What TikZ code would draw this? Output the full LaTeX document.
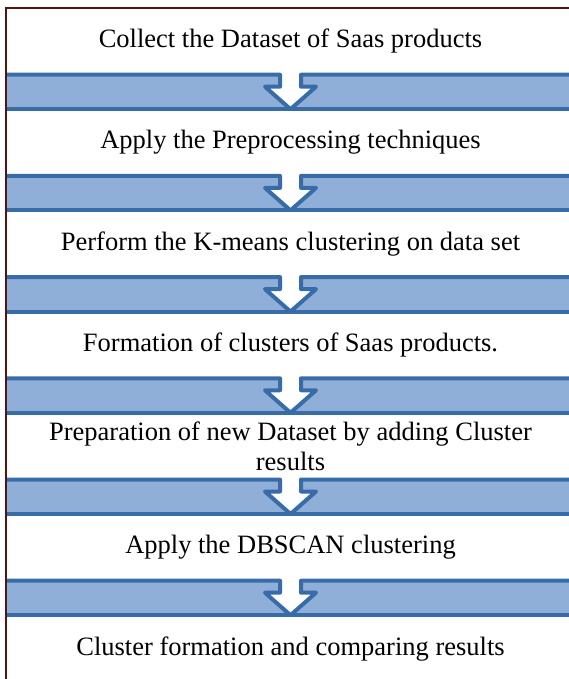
\documentclass[tikz,border=0pt]{standalone}
\usepackage{fontspec}
\setmainfont{Liberation Serif}
\newfontfamily\stepfont{Liberation Serif}
\usepackage{tikz}
\usetikzlibrary{positioning,calc}
\definecolor{bandfill}{RGB}{143,174,216}
\definecolor{bandline}{RGB}{56,108,168}
\definecolor{boxline}{RGB}{149,179,215}
\definecolor{framered}{RGB}{88,18,18}
% blue band with the white down arrow between two steps
\newcommand{\bandarrow}[2]{%
  \fill[bandfill] (#1.south west) rectangle (#2.north east);
  \fill[white] ($(#1.south)+(-10.5pt,3pt)$) -- ++(0,-15pt) -- ++(-15pt,0) -- (#2.north)
    -- ($(#1.south)+(25.5pt,-12pt)$) -- ++(-15pt,0) -- ++(0,15pt) -- cycle;
  \draw[bandrule] (#2.north west) -- (#2.north east);
  \draw[bandrule] (#1.south west) -- ($(#1.south)+(-10.5pt,0)$) -- ++(0,-12pt) -- ++(-15pt,0)
    -- (#2.north) -- ($(#1.south)+(25.5pt,-12pt)$) -- ++(-15pt,0) -- ++(0,12pt) -- (#1.south east);
}

\begin{document}
\begin{tikzpicture}
        \tikzstyle{step box} = [draw=boxline, line width=1pt, rectangle, minimum width=569pt, minimum height=66.7pt, inner sep=0pt, outer sep=0pt, align=center, font=\stepfont\fontsize{26.5}{30}\selectfont]
        \tikzstyle{bandrule} = [draw=bandline, line width=4pt, line join=round]
        \useasboundingbox (0,0) rectangle (569pt,-679pt);
        \node (collect) [step box] at (290.5pt,-41.35pt) {Collect the Dataset of Saas products};
        \node (preproc) [step box, below=34.5pt of collect] {Apply the Preprocessing techniques};
        \node (kmeans) [step box, below=34.5pt of preproc] {Perform the K-means clustering on data set};
        \node (clusters) [step box, below=34.5pt of kmeans] {Formation of clusters of Saas products.};
        \node (newdata) [step box, below=34.5pt of clusters] {Preparation of new Dataset by adding Cluster\\results};
        \node (dbscan) [step box, below=34.5pt of newdata] {Apply the DBSCAN clustering};
        \node (compare) [step box, below=34.5pt of dbscan] {Cluster formation and comparing results};
        \bandarrow{collect}{preproc}
        \bandarrow{preproc}{kmeans}
        \bandarrow{kmeans}{clusters}
        \bandarrow{clusters}{newdata}
        \bandarrow{newdata}{dbscan}
        \bandarrow{dbscan}{compare}
        % dark frame on the top and left
        \draw[framered, line width=2pt] ($(collect.north west)+(565pt,0)$) -- (collect.north west) -- (compare.south west);
    \end{tikzpicture}
\end{document}
